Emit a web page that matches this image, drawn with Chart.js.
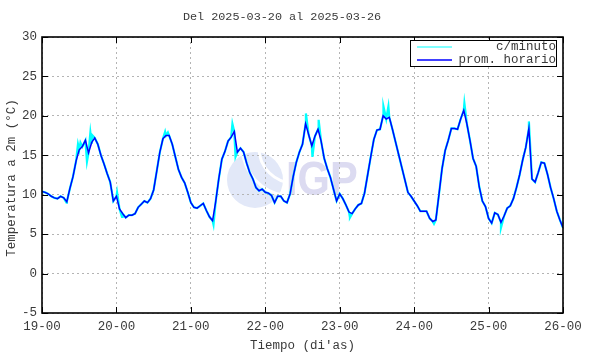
<!DOCTYPE html>
<html>
<head>
<meta charset="utf-8">
<script src="https://cdn.jsdelivr.net/npm/chart.js@4.4.1/dist/chart.umd.min.js"></script>
<style>
  html, body { margin:0; padding:0; background:#fff; }
  canvas { display:block; }
</style>
</head>
<body>
<canvas id="tempChart" width="590" height="354"></canvas>
<script>
const titulo = 'Del 2025-03-20 al 2025-03-26';
const tituloX = "Tiempo (di'as)";
const tituloY = 'Temperatura a 2m (°C)';
const xTickLabels = ['19-00','20-00','21-00','22-00','23-00','24-00','25-00','26-00'];
const yMin = -5, yMax = 30, yStep = 5;

// promedio horario, un valor por hora (desde las 00 de cada dia)
const dia19 = [10.4,10.3,10.1,9.8,9.6,9.5,9.8,9.6,9.1,10.8,12.3,14.3,15.7,16.1,16.9,15.3,16.6,17.2,16.4,15.0,13.9,12.7,11.6,9.2];
const dia20 = [9.8,8.2,7.6,7.1,7.4,7.4,7.6,8.4,8.8,9.2,9.0,9.5,10.6,13.0,15.4,17.1,17.5,17.5,16.4,14.8,13.2,12.2,11.5,10.3];
const dia21 = [9.0,8.4,8.3,8.6,8.9,8.0,7.2,6.7,9.1,12.0,14.5,15.5,16.8,17.3,18.0,15.4,15.9,15.4,14.0,12.8,12.0,10.9,10.5,10.7];
const dia22 = [10.3,10.2,9.9,9.0,9.8,9.8,9.2,9.0,10.1,12.3,14.1,15.4,16.4,19.0,17.6,16.2,17.4,18.3,16.8,14.6,13.3,12.2,10.7,9.2];
const dia23 = [10.1,9.5,8.7,7.8,7.6,8.2,8.7,8.9,10.2,12.5,14.8,17.0,18.2,18.3,20.0,19.6,19.8,18.3,16.7,15.1,13.5,11.9,10.3,9.8];
const dia24 = [9.2,8.6,7.9,7.9,7.9,7.0,6.6,6.8,10.0,13.3,15.6,16.9,18.4,18.4,18.3,19.6,20.7,19.0,16.9,14.6,13.6,11.0,9.2,8.5];
const dia25 = [7.0,6.4,7.7,7.5,6.5,7.3,8.3,8.6,9.5,10.9,12.5,14.4,16.0,18.4,12.0,11.6,12.8,14.1,14.0,12.6,10.9,9.5,7.9,6.8];
const dia26 = [5.8];

// picos visibles de la serie por minuto: [horas desde 19-00, valor]
const picosMinuto = [
  [7.9,9.0],[11.6,16.4],[12.4,16.6],[14.5,14.2],[15.6,17.9],[16.1,17.6],
  [24.2,10.3],[25.8,7.2],[39.7,18.0],[40.6,17.9],[55.3,6.2],[61.4,19.0],
  [62.4,14.8],[85.1,20.3],[87.2,14.8],[89.2,19.5],[99.3,7.1],[110.1,21.2],
  [111.7,21.2],[126.4,6.3],[136.2,21.6],[148.0,5.8],[157.0,19.3]
];

const horario = [...dia19, ...dia20, ...dia21, ...dia22, ...dia23, ...dia24, ...dia25, ...dia26];
const puntosHorario = horario.map((v, i) => ({ x: i, y: v }));
const puntosMinuto = puntosHorario.concat(picosMinuto.map(p => ({ x: p[0], y: p[1] })))
  .sort((a, b) => a.x - b.x);

const FONT = 'Liberation Mono, Courier New, monospace';
const TXT = '#3a3a3a';

const marco = {
  id: 'marco',
  beforeDraw(chart) {
    // logo de fondo
    const ctx = chart.ctx;
    ctx.save();
    ctx.fillStyle = '#e2e8f8';
    ctx.beginPath(); ctx.arc(255, 180, 28, 0, Math.PI * 2); ctx.fill();
    ctx.strokeStyle = '#ffffff'; ctx.lineWidth = 3;
    ctx.beginPath(); ctx.arc(292, 146, 50, Math.PI * 0.55, Math.PI * 0.97); ctx.stroke();
    ctx.beginPath(); ctx.arc(294, 148, 35, Math.PI * 0.5, Math.PI * 1.0); ctx.stroke();
    ctx.fillStyle = '#dcdbf1';
    ctx.font = 'bold 49px Arial, Liberation Sans, sans-serif';
    ctx.textBaseline = 'alphabetic';
    ctx.translate(286, 195); ctx.scale(0.85, 1);
    ctx.fillText('IGP', 0, 0);
    ctx.restore();
  },
  afterDraw(chart) {
    const { ctx, chartArea: a, scales } = chart;
    ctx.save();
    // ticks hacia adentro
    ctx.strokeStyle = '#000'; ctx.lineWidth = 1;
    scales.x.ticks.forEach(t => {
      const px = Math.round(scales.x.getPixelForValue(t.value)) + 0.5;
      ctx.beginPath();
      ctx.moveTo(px, a.bottom); ctx.lineTo(px, a.bottom - 6);
      ctx.moveTo(px, a.top); ctx.lineTo(px, a.top + 6);
      ctx.stroke();
    });
    scales.y.ticks.forEach(t => {
      const py = Math.round(scales.y.getPixelForValue(t.value)) + 0.5;
      ctx.beginPath();
      ctx.moveTo(a.left, py); ctx.lineTo(a.left + 6, py);
      ctx.moveTo(a.right, py); ctx.lineTo(a.right - 6, py);
      ctx.stroke();
    });
    // marco
    ctx.lineWidth = 1.6;
    ctx.strokeRect(a.left, a.top, a.right - a.left, a.bottom - a.top);

    // leyenda
    const lx = 410.5, ly = 40.5, lw = 146, lh = 26;
    ctx.fillStyle = '#fff';
    ctx.fillRect(lx, ly, lw, lh);
    ctx.lineWidth = 1; ctx.strokeStyle = '#000';
    ctx.strokeRect(lx, ly, lw, lh);
    chart.data.datasets.forEach((ds, i) => {
      const y = 47 + i * 13;
      ctx.strokeStyle = ds.borderColor; ctx.lineWidth = i === 0 ? 1 : 1.5;
      ctx.beginPath(); ctx.moveTo(417, y); ctx.lineTo(452, y); ctx.stroke();
      ctx.fillStyle = TXT; ctx.font = '12.5px ' + FONT;
      ctx.textAlign = 'right'; ctx.textBaseline = 'middle';
      ctx.fillText(ds.label, 556, y);
    });

    // titulos
    ctx.fillStyle = TXT;
    ctx.textAlign = 'center'; ctx.textBaseline = 'middle';
    ctx.font = '11.8px ' + FONT;
    ctx.fillText(titulo, 282, 17);
    ctx.font = '12.5px ' + FONT;
    ctx.fillText(tituloX, (a.left + a.right) / 2, 346);
    ctx.translate(12, 178); ctx.rotate(-Math.PI / 2);
    ctx.fillText(tituloY, 0, 0);
    ctx.restore();
  }
};

new Chart(document.getElementById('tempChart'), {
  type: 'line',
  data: {
    datasets: [
      { label: 'c/minuto', data: puntosMinuto, borderColor: '#00ffff', borderWidth: 2.2, pointRadius: 0, tension: 0, order: 1 },
      { label: 'prom. horario', data: puntosHorario, borderColor: '#0000ff', borderWidth: 1.5, pointRadius: 0, tension: 0, order: 0 }
    ]
  },
  options: {
    responsive: false,
    animation: false,
    devicePixelRatio: 1,
    layout: { padding: { top: 37, right: 27, left: 0, bottom: 0 } },
    plugins: { legend: { display: false }, tooltip: { enabled: false } },
    scales: {
      x: {
        type: 'linear', min: 0, max: 168,
        afterFit: s => { s.height = 41; },
        ticks: { stepSize: 24, padding: 6, maxRotation: 0, color: TXT, font: { family: FONT, size: 12.5 },
                 callback: v => xTickLabels[v / 24] },
        grid: { color: '#b4b4b4', drawTicks: false, lineWidth: 1 },
        border: { display: false, dash: [2, 3] }
      },
      y: {
        min: yMin, max: yMax,
        afterFit: s => { s.width = 42; },
        ticks: { stepSize: yStep, padding: 5, color: TXT, font: { family: FONT, size: 12.5 } },
        grid: { color: '#b4b4b4', drawTicks: false, lineWidth: 1 },
        border: { display: false, dash: [2, 3] }
      }
    }
  },
  plugins: [marco]
});
</script>
</body>
</html>
